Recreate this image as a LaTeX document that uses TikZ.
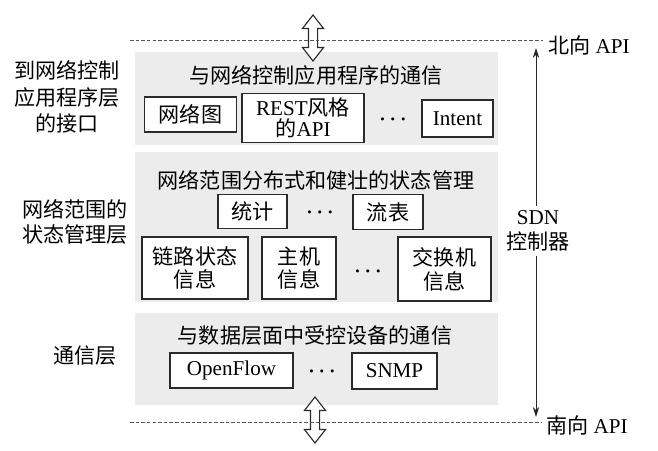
\documentclass[tikz,border=0pt]{standalone}
\usepackage{fontspec}
\setmainfont{Liberation Serif}
\newfontfamily\cjk{Noto Sans CJK SC}
\usetikzlibrary{arrows.meta,positioning,shapes.arrows}
\definecolor{Ink}{HTML}{2A2A2A}
\definecolor{Panel}{HTML}{ECECEC}
\newcommand{\zh}[1]{{\cjk #1}}

\begin{document}
\begin{tikzpicture}[
  x=0.025cm, y=-0.025cm,
  every node/.style={font=\fontsize{15}{18}\selectfont},
  box/.style={draw=Ink,line width=0.9pt,fill=white,inner sep=1pt,align=center},
  title/.style={font=\fontsize{15}{18}\selectfont\cjk},
  side/.style={align=center,font=\fontsize{15}{19}\selectfont\cjk},
  dots/.style={font=\fontsize{15}{18}\selectfont\boldmath},
  panel/.style={fill=Panel},
  api/.style={dash pattern=on 2.5pt off 1.5pt,draw=Ink!80,line width=0.6pt},
  dbl/.style={double arrow,draw=Ink,fill=white,line width=0.8pt,rotate=90,minimum height=1.15cm,inner xsep=0pt,inner ysep=0.1cm,double arrow head extend=0.15cm,double arrow tip angle=76},
  arrow/.style={-{Stealth[length=2.5mm,width=1.6mm]},line width=0.6pt,draw=Ink}
]
\useasboundingbox (0,0) rectangle (658,451);

% the three layers
\fill[panel] (135,52) rectangle (498,145);
\fill[panel] (135,152) rectangle (498,302);
\fill[panel] (135,313) rectangle (498,405);

\node[side] (lyapp) at (67,97) {到网络控制\\应用程序层\\的接口};
\node[side,font=\fontsize{15}{18}\selectfont\cjk] (lystate) at (75,222) {网络范围的\\状态管理层};
\node[side] (lycomm) at (85,356) {通信层};

% northbound layer
\node[title] (tapp) at (316,75) {与网络控制应用程序的通信};
\node[box,minimum width=2.3cm,minimum height=0.875cm] (graph) at (190.5,114.5) {\zh{网络图}};
\node[box,minimum width=3.05cm,minimum height=1.225cm,font=\fontsize{15}{15}\selectfont] (rest) at (303,118) {REST\zh{风格}\\\zh{的}API};
\node[dots] (dapp) at (393,120) {$\cdots$};
\node[box,minimum width=1.775cm,minimum height=0.925cm] (intent) at (457.5,118.5) {Intent};

% state management layer
\node[title] (tstate) at (316,180) {网络范围分布式和健壮的状态管理};
\node[box,minimum width=1.725cm,minimum height=0.85cm] (stats) at (252.5,211.5) {\zh{统计}};
\node[dots] (dstat) at (320,213) {$\cdots$};
\node[box,minimum width=1.75cm,minimum height=0.875cm] (flowtab) at (388,212) {\zh{流表}};
\node[box,minimum width=2.65cm,minimum height=1.55cm,font=\fontsize{15}{17}\selectfont\cjk] (link) at (195,268) {链路状态\\信息};
\node[box,minimum width=1.85cm,minimum height=1.55cm,font=\fontsize{15}{17}\selectfont\cjk] (host) at (299,268) {主机\\信息};
\node[dots] (dinfo) at (368,272) {$\cdots$};
\node[box,minimum width=2.325cm,minimum height=1.6cm,font=\fontsize{15}{17}\selectfont\cjk] (switch) at (444.5,269) {交换机\\信息};

% southbound layer
\node[title] (tcomm) at (315,336) {与数据层面中受控设备的通信};
\node[box,minimum width=3.075cm,minimum height=0.875cm] (openflow) at (231.5,370.5) {OpenFlow};
\node[dots] (dcomm) at (322,372) {$\cdots$};
\node[box,minimum width=2.125cm,minimum height=0.9cm] (snmp) at (394.5,371) {SNMP};

% APIs and controller
\node (napi) at (589,45) {\zh{北向} API};
\node (sapi) at (587,425) {\zh{南向} API};
\node[align=center] (sdn) at (538,231) {SDN\\\zh{控制器}};
\coordinate (nleft) at (130,40);
\coordinate (ntop) at (536,48);
\coordinate (sleft) at (130,422);
\coordinate (sbot) at (536,417);

\node[dbl] (north) at (313,38) {};
\node[dbl] (south) at (315,420) {};
\draw[api] (nleft) -- (nleft -| napi.west);
\draw[api] (sleft) -- (sleft -| sapi.west);
\draw[arrow] (sdn.north -| ntop) -- (ntop);
\draw[arrow] (sdn.south -| sbot) -- (sbot);
\end{tikzpicture}
\end{document}
